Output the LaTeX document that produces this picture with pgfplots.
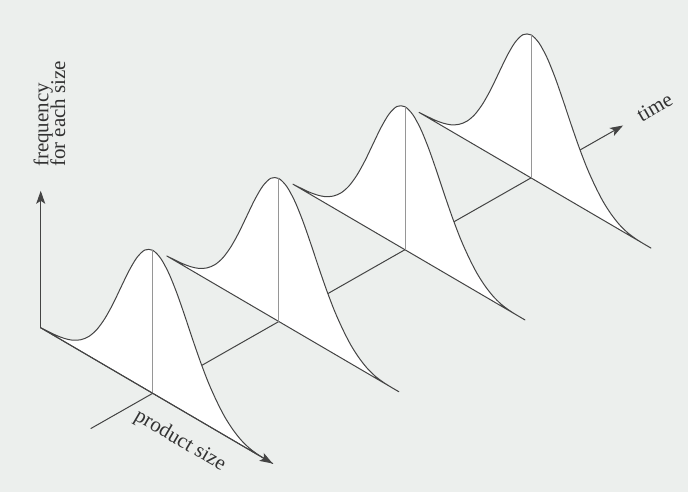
\documentclass[border=0pt]{standalone}
\usepackage{fontspec}
\setmainfont{Liberation Serif}
\usepackage{pgfplots}
\pgfplotsset{compat=1.18}
\usepackage{pgfplotstable}
\usetikzlibrary{arrows.meta}
\definecolor{paper}{RGB}{236,239,237}
\definecolor{ink}{RGB}{68,68,68}
\definecolor{stem}{RGB}{150,150,150}
\definecolor{txt}{RGB}{50,50,50}
\tikzset{
  lbl/.style={inner sep=0pt, text=txt, font=\fontsize{21bp}{17bp}\selectfont},
  arr/.style={-{Stealth[length=13bp,width=9bp,inset=3bp]}},
}

% product size (s), relative frequency (f) of one size distribution
\pgfplotstableread{
s f
-14 0.000
-13 0.005
-12 0.011
-11 0.023
-10 0.044
-9 0.080
-8 0.135
-7 0.216
-6 0.325
-5 0.458
-4 0.607
-3 0.755
-2 0.882
-1 0.969
0 1.000
1 0.976
2 0.906
3 0.801
4 0.674
5 0.539
6 0.411
7 0.298
8 0.206
9 0.130
10 0.075
11 0.036
12 0.013
13 0.003
14 0.000
15 0.000
}\dist

\begin{document}
\begin{tikzpicture}
\begin{axis}[
  x={(8bp,-4.68bp)}, y={(126.1bp,71.8bp)}, z={(0bp,143bp)},
  hide axis, clip=false,
  xmin=-19, xmax=67, ymin=-0.5, ymax=4, zmin=-1.3, zmax=4.9,
  every axis plot/.append style={line join=round, line cap=round},
]
\coordinate (TL) at (axis cs:-19.09,0,2.1256);
\coordinate (BR) at (axis cs:66.91,0,1.4997);
\fill[paper] (TL) rectangle (BR);
% time axis
\addplot3[ink, line width=1bp, arr] coordinates {(0,-0.49,0) (0,3.73,0)};
% distributions, back to front
\addplot3[ink, line width=1bp, fill=white, smooth] table[x=s, y expr=3, z=f]{\dist} -- cycle;
\addplot3[stem, line width=0.7bp] coordinates {(0,3,0) (0,3,1)};
\addplot3[ink, line width=1bp, fill=white, smooth] table[x=s, y expr=2, z=f]{\dist} -- cycle;
\addplot3[stem, line width=0.7bp] coordinates {(0,2,0) (0,2,1)};
\addplot3[ink, line width=1bp, fill=white, smooth] table[x=s, y expr=1, z=f]{\dist} -- cycle;
\addplot3[stem, line width=0.7bp] coordinates {(0,1,0) (0,1,1)};
\addplot3[ink, line width=1bp, fill=white, smooth] table[x=s, y expr=0, z=f]{\dist} -- cycle;
\addplot3[stem, line width=0.7bp] coordinates {(0,0,0) (0,0,1)};
% product size axis and frequency axis
\addplot3[ink, line width=1bp, arr] coordinates {(-14,0,0) (15,0,0)};
\addplot3[ink, line width=1bp, arr] coordinates {(-14,0,0) (-14,0,0.958)};
% labels
\node[lbl, rotate=90, anchor=base west] at (axis cs:-13.05,0,1.155) {frequency};
\node[lbl, rotate=90, anchor=base west] at (axis cs:-10.96,0,1.224) {for each size};
\node[lbl, rotate=-30.3] at (axis cs:3.41,0,-0.222) {product size};
\node[lbl, rotate=30] at (axis cs:0,3.98,0) {time};
\end{axis}
\pgfresetboundingbox
\path[use as bounding box] (TL) rectangle (BR);
\end{tikzpicture}
\end{document}
